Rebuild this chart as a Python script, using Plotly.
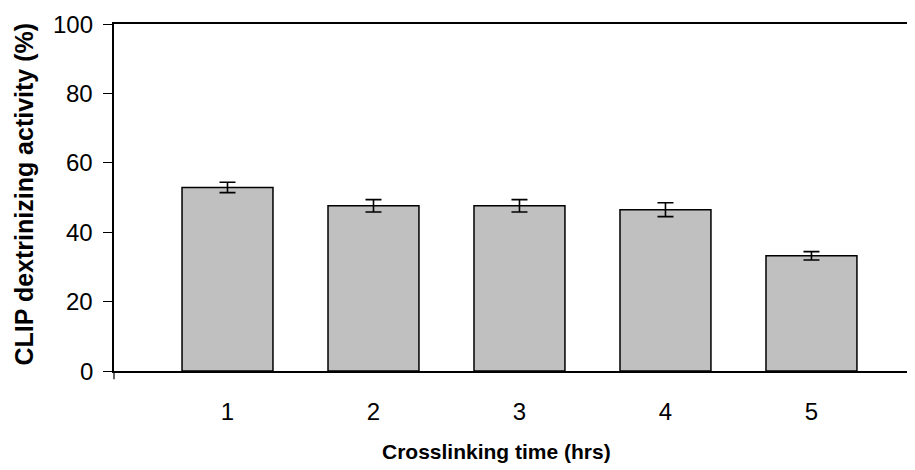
import plotly.graph_objects as go

categories = [1, 2, 3, 4, 5]
activity = [52.9, 47.6, 47.6, 46.5, 33.2]
errors = [1.5, 1.8, 1.8, 2.0, 1.2]
y_ticks = [0, 20, 40, 60, 80, 100]

FONT = "Arial, Liberation Sans, sans-serif"

fig = go.Figure()
fig.add_trace(go.Bar(
    x=categories,
    y=activity,
    width=0.623,
    marker=dict(color="#C0C0C0", line=dict(color="black", width=1.5)),
    error_y=dict(type="data", array=errors, visible=True, color="black", thickness=1.6, width=8),
    showlegend=False,
))

fig.update_layout(
    width=915,
    height=470,
    margin=dict(l=106, r=0, t=16, b=107),
    paper_bgcolor="white",
    plot_bgcolor="white",
    font=dict(family=FONT, color="black"),
    xaxis=dict(
        range=[0.2226, 5.764],
        tickmode="array",
        tickvals=categories,
        ticktext=[str(c) for c in categories],
        tickfont=dict(size=24, family=FONT),
        showline=True,
        linecolor="black",
        linewidth=1.8,
        mirror=True,
        ticks="",
        showgrid=False,
        zeroline=False,
        ticklabelstandoff=18,
    ),
    yaxis=dict(
        range=[0, 100],
        tickmode="array",
        tickvals=y_ticks,
        showticklabels=False,
        showline=True,
        linecolor="black",
        linewidth=1.8,
        ticks="outside",
        ticklen=9,
        tickwidth=1.2,
        tickcolor="black",
        showgrid=False,
        zeroline=False,
    ),
)

# y tick labels placed through the y scale
for v in y_ticks:
    fig.add_annotation(
        text=str(v), xref="paper", yref="y", x=-0.025, y=v,
        xanchor="right", yanchor="middle", showarrow=False,
        font=dict(size=24, family=FONT), borderpad=0,
    )

fig.add_annotation(
    text="<b>CLIP dextrinizing activity (%)</b>",
    xref="paper", yref="paper",
    x=-0.1106, y=0.510,
    xanchor="center", yanchor="middle",
    textangle=-90,
    showarrow=False,
    font=dict(size=25, family=FONT),
)

fig.add_annotation(
    text="<b>Crosslinking time (hrs)</b>",
    xref="paper", yref="paper",
    x=0.4734, y=-0.2334,
    xanchor="center", yanchor="middle",
    showarrow=False,
    font=dict(size=21, family=FONT),
)

fig.add_shape(type="line", xref="paper", yref="paper", x0=0, x1=0, y0=0, y1=-0.024,
              line=dict(color="black", width=1.2))

fig.write_html("out.html")
